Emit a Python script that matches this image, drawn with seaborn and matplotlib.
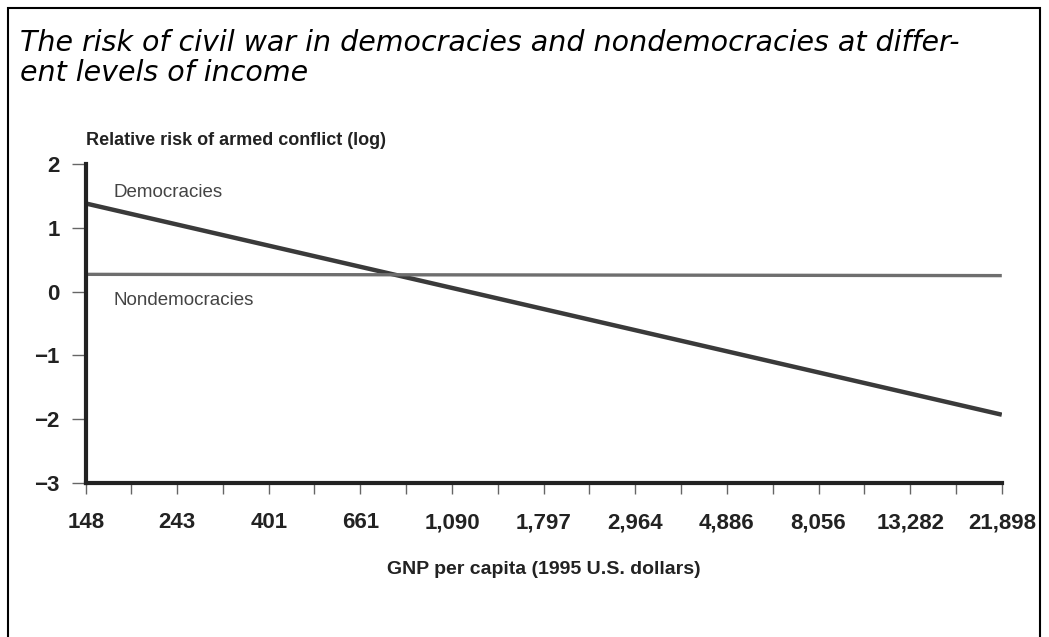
import matplotlib.pyplot as plt
import matplotlib.patches as mpatches
import matplotlib.ticker as mticker
import seaborn as sns
import pandas as pd
import numpy as np

# values
gnp_ticks = [148, 243, 401, 661, 1090, 1797, 2964, 4886, 8056, 13282, 21898]
tick_labels = ["148", "243", "401", "661", "1,090", "1,797", "2,964", "4,886", "8,056", "13,282", "21,898"]
line_x = [148, 21898]
democracies = [1.38, -1.93]
nondemocracies = [0.27, 0.25]

df = pd.DataFrame({
    "GNP": line_x * 2,
    "risk": democracies + nondemocracies,
    "group": ["Democracies"] * 2 + ["Nondemocracies"] * 2,
})

sns.set_style("white")
plt.rcParams['font.family'] = ['Liberation Sans', 'DejaVu Sans']

fig = plt.figure(figsize=(10.49, 6.37), dpi=100)
ax = fig.add_axes([0.082, 0.2418, 0.873, 0.5008])

sns.lineplot(data=df, x="GNP", y="risk", hue="group",
             palette={"Democracies": "#3a3a3a", "Nondemocracies": "#6e6e6e"},
             ax=ax, legend=False)
for ln, lw in zip(ax.lines, [3.2, 2.4]):
    ln.set_linewidth(lw)
    ln.set_solid_capstyle("butt")

ax.set_xscale("log")
ax.set_xlim(148, 21898)
ax.set_ylim(-3, 2)
ax.xaxis.set_major_locator(mticker.FixedLocator(gnp_ticks))
ax.xaxis.set_major_formatter(mticker.FixedFormatter(tick_labels))
minor = [np.sqrt(a * b) for a, b in zip(gnp_ticks[:-1], gnp_ticks[1:])]
ax.xaxis.set_minor_locator(mticker.FixedLocator(minor))
ax.xaxis.set_minor_formatter(mticker.NullFormatter())
ax.set_yticks([-3, -2, -1, 0, 1, 2])
ax.set_yticklabels(["\u22123", "\u22122", "\u22121", "0", "1", "2"])

for s in ["top", "right"]:
    ax.spines[s].set_visible(False)
for s in ["left", "bottom"]:
    ax.spines[s].set_color("#222222")
    ax.spines[s].set_linewidth(3)

ax.tick_params(axis="x", which="both", direction="out", length=8, width=1, color="#666666",
               bottom=True, labelsize=16, pad=13, labelcolor="#222222")
ax.tick_params(axis="y", direction="out", length=10, width=1, color="#666666",
               left=True, labelsize=16, pad=9, labelcolor="#222222")
for lab in ax.get_xticklabels() + ax.get_yticklabels():
    lab.set_fontweight("bold")

ax.set_xlabel("GNP per capita (1995 U.S. dollars)", fontsize=14, fontweight="bold",
              color="#222222", labelpad=20)
ax.set_ylabel("")

ax.text(0.0295, 1.56, "Democracies", transform=ax.get_yaxis_transform(),
        fontsize=13.5, color="#444444", va="center")
ax.text(0.0295, -0.14, "Nondemocracies", transform=ax.get_yaxis_transform(),
        fontsize=13.5, color="#444444", va="center")

fig.text(0.082, 0.78, "Relative risk of armed conflict (log)", fontsize=13,
         fontweight="bold", color="#222222", va="center")

fig.text(0.019, 0.955, "The risk of civil war in democracies and nondemocracies at differ-\nent levels of income",
         fontsize=20.5, style="italic", family="DejaVu Sans", va="top", ha="left",
         linespacing=1.1, color="black")

fig.patches.append(mpatches.Rectangle((0.008, -0.05), 0.983, 1.037, transform=fig.transFigure,
                                      fill=False, edgecolor="black", linewidth=1.5))

fig.savefig("out.png", dpi=100)
